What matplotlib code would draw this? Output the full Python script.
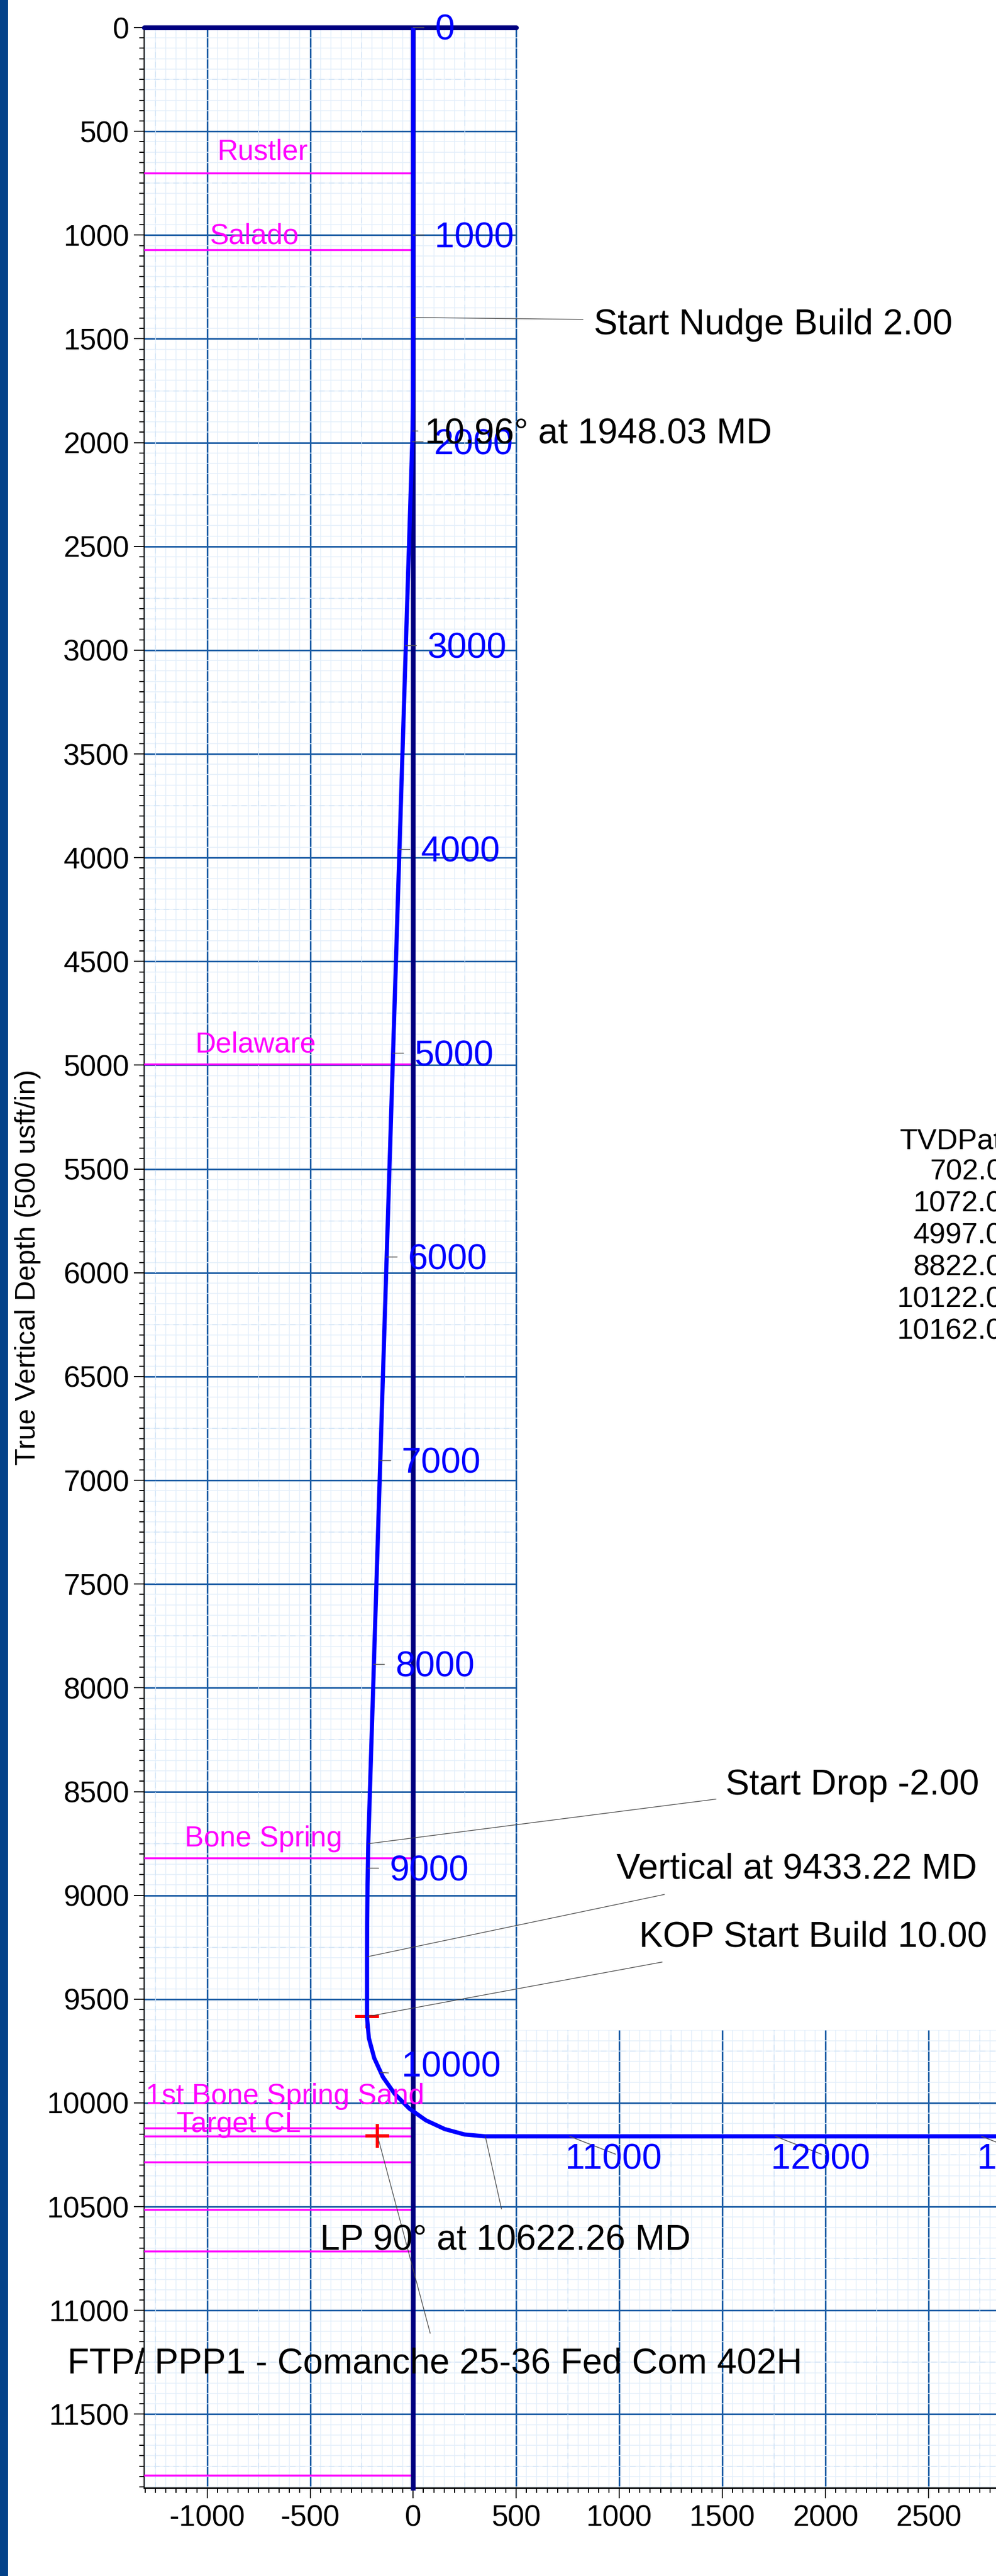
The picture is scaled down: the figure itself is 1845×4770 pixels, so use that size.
import numpy as np
import matplotlib
matplotlib.use("Agg")
import matplotlib.pyplot as plt
from matplotlib.patches import Rectangle
from matplotlib.ticker import MultipleLocator

plt.rcParams['font.family'] = ['Liberation Sans', 'DejaVu Sans']
plt.rcParams['axes.unicode_minus'] = False

# ---------------- data (usft) ----------------
# wellpath: vertical section vs true vertical depth
path_vs = [0, 0, -0.3, -1.5, -3, -218, -221.5, -223.5, -224, -224,
           -215, -189, -147, -90, -19, 62, 153, 249, 349, 3000]
path_tvd = [0, 1400, 1600, 1800, 1945, 8751, 8950, 9150, 9296, 9588,
            9688, 9784, 9875, 9956, 10027, 10084, 10126, 10152, 10161, 10161]

# measured depth labels along the path
md_vals = [0, 1000, 2000, 3000, 4000, 5000, 6000, 7000, 8000, 9000,
           10000, 11000, 12000, 13000]
md_vs = [0, 0, -4, -37, -68, -99, -130, -161, -192, -220,
         -159, 759, 1757, 2757]
md_tvd = [0, 1000, 1996, 2978, 3960, 4942, 5924, 6905, 7887, 8869,
          9853, 10161, 10161, 10161]

# formation tops
form_names = ['Rustler', 'Salado', 'Delaware', 'Bone Spring',
              '1st Bone Spring Sand', 'Target CL']
form_tvd = [702, 1072, 4997, 8822, 10122, 10162]
other_tops = [10285, 10515, 10715, 11795]

# design annotations and the point each one refers to
note_text = ['Start Nudge Build 2.00', '10.96° at 1948.03 MD',
             'Start Drop -2.00', 'Vertical at 9433.22 MD',
             'KOP Start Build 10.00', 'LP 90° at 10622.26 MD',
             'FTP/ PPP1 - Comanche 25-36 Fed Com 402H']
note_vs = [0, -3, -218, -224, -224, 350, -173]
note_tvd = [1397, 1944, 8751, 9296, 9584, 10161, 10159]

# target markers (KOP, FTP)
tgt_vs = [-224, -173]
tgt_tvd = [9584, 10159]

# formation table at the right edge (cut off in the original)
table_tvd = [702.0, 1072.0, 4997.0, 8822.0, 10122.0, 10162.0]

# ---------------- layout ----------------
W, H = 1845, 4770
fig = plt.figure(figsize=(W / 72, H / 72), dpi=72)
ax_l, ax_r, ax_t, ax_b = 266.5, 1845, 51, 4607
ax = fig.add_axes([ax_l / W, 1 - ax_b / H, (ax_r - ax_l) / W, (ax_b - ax_t) / H])
x0px, sx, sy = 765.4, 0.3818, 0.3843
xmin, xmax = (ax_l - x0px) / sx, (ax_r - x0px) / sx
ymax = (ax_b - ax_t) / sy
ax.set_xlim(xmin, xmax)
ax.set_ylim(ymax, 0)

# grid
ax.xaxis.set_major_locator(MultipleLocator(500))
ax.xaxis.set_minor_locator(MultipleLocator(50))
ax.yaxis.set_major_locator(MultipleLocator(500))
ax.yaxis.set_minor_locator(MultipleLocator(50))
ax.set_axisbelow(True)
ax.grid(which='minor', color='#E3EFFB', lw=1.5)
ax.grid(which='major', color='#1F5FA6', lw=3)
for v in np.arange(-1250, 3000, 500):
    ax.axvline(v, color='#D2E4F7', lw=1.5, ls=(0, (7, 5)), zorder=0.6)
for v in np.arange(250, 12000, 500):
    ax.axhline(v, color='#D2E4F7', lw=1.5, ls=(0, (7, 5)), zorder=0.6)

# blank area right of the upper section
ax.add_patch(Rectangle((504, -20), xmax - 500, 9670, facecolor='white',
                       edgecolor='none', zorder=1))

for s in ['top', 'right']:
    ax.spines[s].set_visible(False)
ax.spines['left'].set_linewidth(2)
ax.spines['bottom'].set_linewidth(3)
ax.tick_params(which='major', length=19, width=2, labelsize=55, direction='out')
ax.tick_params(which='minor', length=9, width=2, direction='out')
ax.tick_params(axis='y', which='major', pad=8)
ax.tick_params(axis='x', which='major', pad=11)

fig.text(52 / W, 1 - 2347 / H, 'True Vertical Depth (500 usft/in)', rotation=90,
         ha='center', va='center', fontsize=52)

# section line and surface line
ax.plot([0, 0], [0, ymax], color='#000080', lw=8.7, zorder=4, clip_on=False)
ax.plot([xmin, 500], [0, 0], color='#000080', lw=9, solid_capstyle='round',
        zorder=4, clip_on=False)

# formation tops
for t in form_tvd + other_tops:
    ax.plot([xmin, 0], [t, t], color='#FF00FF', lw=3.5, zorder=3)
form_lab_vs = [-731, -771, -765, -726, -622, -848]
form_lab_dy = [25, 11, 23, 22, 45, 8]
for name, t, lx, dy in zip(form_names, form_tvd, form_lab_vs, form_lab_dy):
    ax.annotate(name, xy=(lx, t), xytext=(0, dy), textcoords='offset pixels',
                ha='center', va='baseline', color='#FF00FF', fontsize=53, zorder=8)

# targets
ax.plot(tgt_vs, tgt_tvd, ls='none', marker='+', ms=44, mew=6, color='#FF0000', zorder=5)

# wellpath
ax.plot(path_vs, path_tvd, color='#0000FF', lw=7.7, solid_capstyle='round',
        solid_joinstyle='round', zorder=6)

# MD labels
for md, x, t in zip(md_vals, md_vs, md_tvd):
    if md <= 9000:
        dash, off = (20, 0), (40, -23)
    elif md == 10000:
        dash, off = (15, -1), (39, -8)
    else:
        dash, off = (85, -33), (-8, -61)
    ax.annotate('', xy=(x, t), xytext=dash, textcoords='offset pixels',
                arrowprops=dict(arrowstyle='-', color='#555555', lw=1.6,
                                shrinkA=0, shrinkB=0), zorder=7)
    ax.annotate(str(md), xy=(x, t), xytext=off, textcoords='offset pixels',
                ha='left', va='baseline', color='#0000FF', fontsize=66, zorder=8,
                annotation_clip=False)

# design annotations
txt_off = [(334.6, -31), (22.7, -23), (661.7, 91), (462, 144.5),
           (504, 129.5), (-306, -210.6), (-574.4, -440)]
lead_off = [(314.6, -3.6), (10, 0), (644.4, 82.6), (551, 115.5),
            (546.8, 101), (30, -134.7), (97.6, -365.5)]
for s, x, t, to, lo in zip(note_text, note_vs, note_tvd, txt_off, lead_off):
    ax.annotate('', xy=(x, t), xytext=lo, textcoords='offset pixels',
                arrowprops=dict(arrowstyle='-', color='#444444', lw=1.3,
                                shrinkA=0, shrinkB=0), zorder=7)
    ax.annotate(s, xy=(x, t), xytext=to, textcoords='offset pixels',
                ha='left', va='baseline', color='black', fontsize=66, zorder=9,
                annotation_clip=False)

# formation table (partly outside the page)
fig.text(1666.7 / W, 1 - 2127 / H, 'TVDPath', ha='left', va='baseline', fontsize=54)
for i, v in enumerate(table_tvd):
    fig.text(1857 / W, 1 - (2185 + i * 58.8) / H, f'{v:.1f}', ha='right',
             va='baseline', fontsize=54)

# page border strip on the left
fig.add_artist(Rectangle((0, 0), 15 / W, 1, transform=fig.transFigure,
                         facecolor='#03428A', edgecolor='none'))

fig.savefig('out.png', dpi=72)
